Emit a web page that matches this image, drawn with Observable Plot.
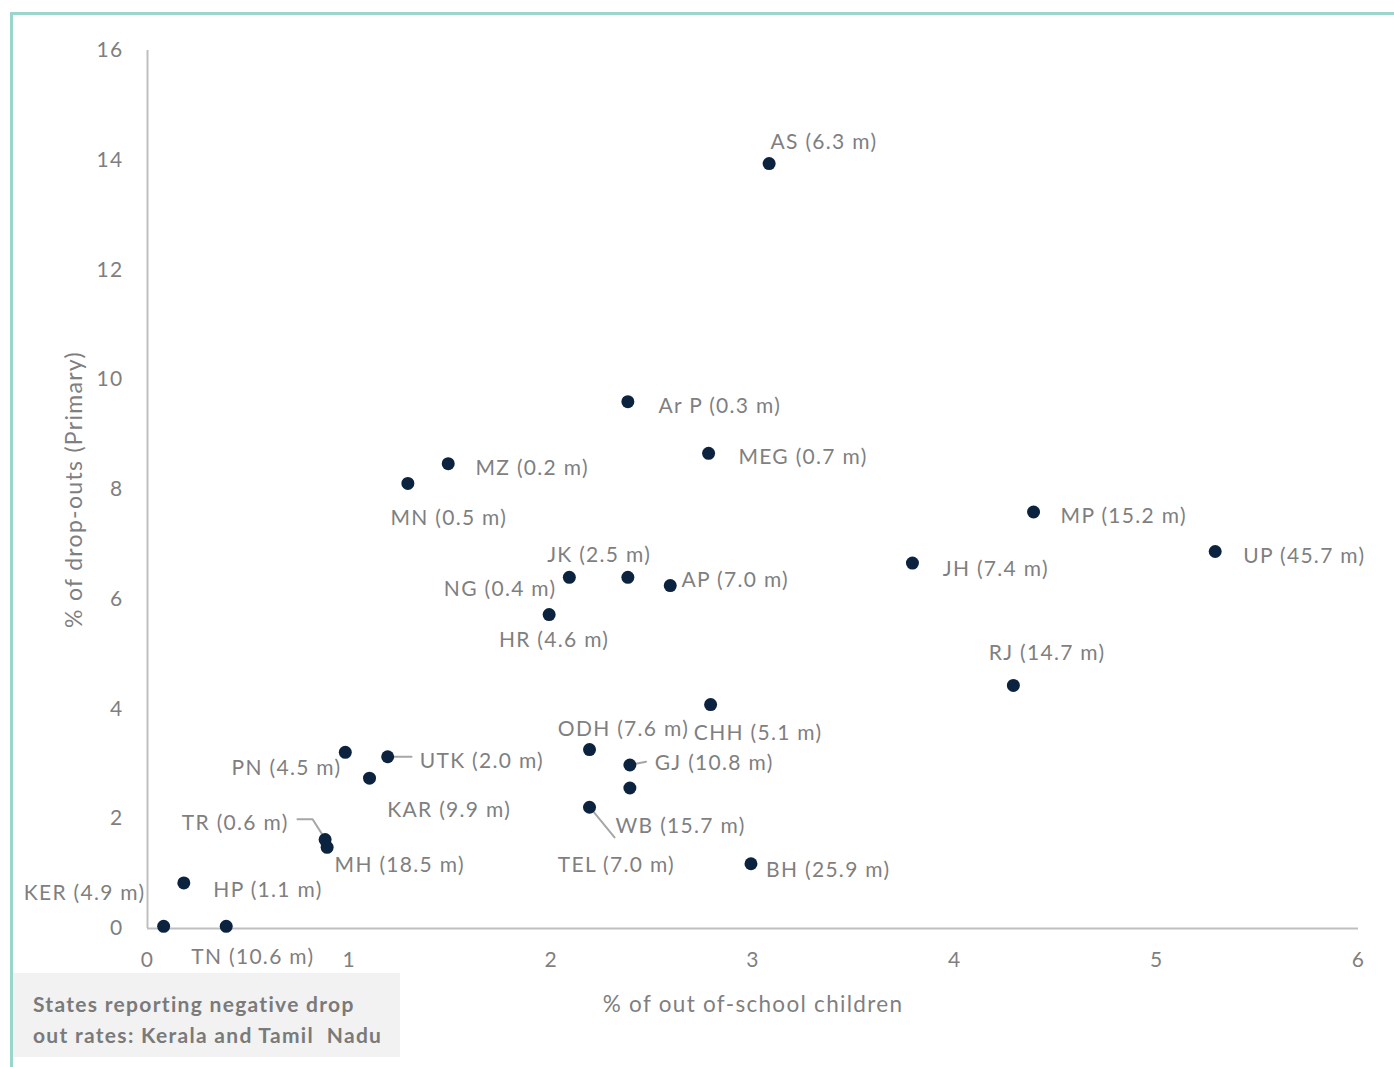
<!DOCTYPE html>
<html>
<head>
<meta charset="utf-8">
<script src="https://cdn.jsdelivr.net/npm/d3@7"></script>
<script src="https://cdn.jsdelivr.net/npm/@observablehq/plot@0.6"></script>
<style>
  html, body { margin: 0; padding: 0; background: #ffffff; }
  #wrap { position: relative; width: 1394px; height: 1067px; overflow: hidden; font-family: Lato, "Open Sans", sans-serif; }
  #frame { position: absolute; left: 10px; top: 12px; width: 1500px; height: 1200px;
           border-left: 3px solid #9bd5cb; border-top: 3px solid #9bd5cb; box-sizing: border-box; }
  #chart { position: absolute; left: 0; top: 0; }
  #note { position: absolute; left: 13px; top: 973px; width: 387px; height: 84px; background: #f2f2f2;
          color: #7a7a7a; font-weight: bold; font-size: 21px; line-height: 31px; letter-spacing: 1.3px;
          padding: 15px 0 0 20px; box-sizing: border-box; white-space: pre; }
</style>
</head>
<body>
<div id="wrap">
  <div id="frame"></div>
  <div id="chart"></div>
  <div id="note">States reporting negative drop
out rates: Kerala and Tamil  Nadu</div>
</div>
<script>
// ---- data ----
const states = ["AS","Ar P","MEG","MZ","MN","MP","UP","JH","NG","JK","AP","HR","RJ","CHH","ODH","PN","UTK","KAR","GJ","TEL","WB","TR","MH","BH","HP","KER","TN"];
const outOfSchool = [3.08,2.38,2.78,1.49,1.29,4.39,5.29,3.79,2.09,2.38,2.59,1.99,4.29,2.79,2.19,0.98,1.19,1.10,2.39,2.39,2.19,0.88,0.89,2.99,0.18,0.08,0.39];
const dropOuts    = [13.94,9.60,8.66,8.47,8.11,7.59,6.87,6.66,6.40,6.40,6.25,5.72,4.43,4.08,3.26,3.21,3.13,2.74,2.98,2.56,2.21,1.62,1.48,1.18,0.83,0.04,0.04];
const childrenMillions = ["6.3","0.3","0.7","0.2","0.5","15.2","45.7","7.4","0.4","2.5","7.0","4.6","14.7","5.1","7.6","4.5","2.0","9.9","10.8","7.0","15.7","0.6","18.5","25.9","1.1","4.9","10.6"];
const xTicks = [0,1,2,3,4,5,6];
const yTicks = [0,2,4,6,8,10,12,14,16];
const xTitle = "% of out of-school children";
const yTitle = "% of drop-outs (Primary)";

// ---- label placement (layout, in data units) ----
const labelX = [3.087,2.532,2.928,1.625,1.204,4.524,5.429,3.940,2.026,1.980,2.646,1.741,4.168,2.707,2.033,0.961,1.349,1.188,2.513,2.033,2.319,0.699,0.927,3.065,0.326,-0.010,0.217];
const labelY = [14.32,9.51,8.59,8.38,7.47,7.51,6.78,6.54,6.19,6.80,6.35,5.25,5.01,3.55,3.63,2.92,3.05,2.16,3.02,1.15,1.86,1.91,1.16,1.06,0.69,0.65,-0.52];
const labelAnchor = ["start","start","start","start","start","start","start","start","end","start","start","start","start","start","start","end","start","start","start","start","start","end","start","start","start","end","start"];

// leader lines (layout, in data units)
const leaderId = ["UTK","UTK","GJ","GJ","WB","WB","TR","TR","TR"];
const leaderX  = [1.191,1.308,2.388,2.470,2.191,2.314,0.743,0.818,0.882];
const leaderY  = [3.13,3.13,2.98,3.04,2.21,1.66,1.99,1.99,1.62];

const data = states.map((s, i) => ({
  state: s, x: outOfSchool[i], y: dropOuts[i],
  label: `${s} (${childrenMillions[i]} m)`,
  lx: labelX[i], ly: labelY[i], anchor: labelAnchor[i]
}));
const leaders = leaderId.map((id, i) => ({id, x: leaderX[i], y: leaderY[i]}));

const textColor = "#7f7f7f";
const chart = Plot.plot({
  width: 1394,
  height: 1067,
  marginLeft: 147,
  marginRight: 36,
  marginTop: 50,
  marginBottom: 139,
  x: {domain: [0, 6], ticks: xTicks},
  y: {domain: [0, 16], ticks: yTicks},
  style: {fontFamily: "Lato, 'Open Sans', sans-serif", fontSize: "21px", color: textColor,
          background: "transparent", overflow: "visible", letterSpacing: "1.3px"},
  marks: [
    Plot.ruleY([0], {stroke: "#bfbfbf", strokeWidth: 2}),
    Plot.ruleX([0], {stroke: "#bfbfbf", strokeWidth: 2}),
    Plot.axisX({ticks: xTicks, tickFormat: d3.format("d"), tickSize: 0, tickPadding: 24, label: null, fill: textColor}),
    Plot.axisY({ticks: yTicks, tickFormat: d3.format("d"), tickSize: 0, tickPadding: 24, label: null, fill: textColor}),
    Plot.line(leaders, {x: "x", y: "y", z: "id", stroke: "#a6a6a6", strokeWidth: 2}),
    Plot.dot(data, {x: "x", y: "y", r: 6.5, fill: "#0c2340", stroke: "none"}),
    Plot.text(data.filter(d => d.anchor === "start"), {x: "lx", y: "ly", text: "label", textAnchor: "start", fill: textColor}),
    Plot.text(data.filter(d => d.anchor === "end"), {x: "lx", y: "ly", text: "label", textAnchor: "end", fill: textColor}),
    Plot.text([xTitle], {frameAnchor: "bottom", dy: 76, textAnchor: "middle", lineAnchor: "middle", fill: textColor, fontSize: 22.5}),
    Plot.text([yTitle], {frameAnchor: "left", dx: -73, rotate: -90, textAnchor: "middle", lineAnchor: "middle", fill: textColor, fontSize: 23})
  ]
});
document.getElementById("chart").appendChild(chart);
</script>
</body>
</html>
